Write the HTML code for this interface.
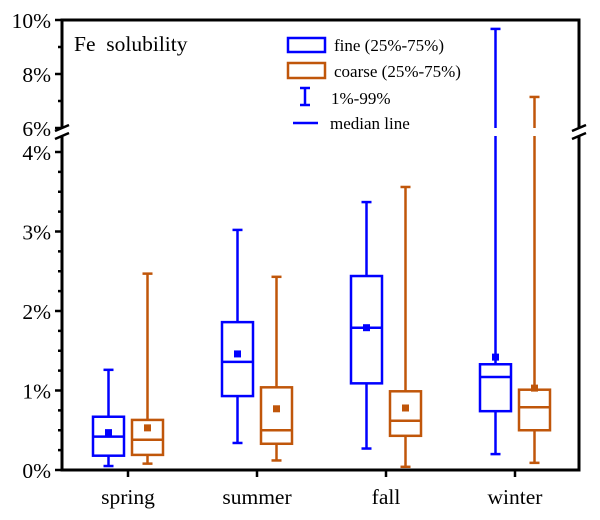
<!DOCTYPE html>
<html><head><meta charset="utf-8"><style>
html,body{margin:0;padding:0;background:#fff;}
svg{display:block;font-family:"Liberation Serif",serif;}
</style></head><body>
<svg id="chart" width="600" height="520" viewBox="0 0 600 520">
<g id="axes"></g>
<g id="marks"></g>
<g id="legend">
  <text x="74" y="51" font-size="21.5" xml:space="preserve">Fe  solubility</text>
  <rect x="288" y="38" width="37" height="14" fill="none" stroke="#0000ff" stroke-width="2.5"/>
  <text x="334" y="51" font-size="17">fine (25%-75%)</text>
  <rect x="288" y="63" width="37" height="15" fill="none" stroke="#c0560a" stroke-width="2.5"/>
  <text x="334" y="77" font-size="17">coarse (25%-75%)</text>
  <g stroke="#0000ff" stroke-width="2.5">
    <line x1="305" y1="88" x2="305" y2="105"/><line x1="300" y1="88" x2="310" y2="88"/><line x1="300" y1="105" x2="310" y2="105"/>
  </g>
  <text x="331" y="104" font-size="17">1%-99%</text>
  <line x1="293" y1="123" x2="318" y2="123" stroke="#0000ff" stroke-width="2.5"/>
  <text x="330" y="129" font-size="17">median line</text>
</g>
</svg>
<script>
const categories = ["spring","summer","fall","winter"];
const fineLow    = [0.05, 0.34, 0.27, 0.20];
const fineQ1     = [0.18, 0.93, 1.09, 0.74];
const fineMedian = [0.42, 1.36, 1.79, 1.17];
const fineMean   = [0.47, 1.46, 1.79, 1.42];
const fineQ3     = [0.67, 1.86, 2.44, 1.33];
const fineHigh   = [1.26, 3.02, 3.37, 9.67];
const coarseLow    = [0.08, 0.12, 0.04, 0.09];
const coarseQ1     = [0.19, 0.33, 0.43, 0.50];
const coarseMedian = [0.38, 0.50, 0.62, 0.79];
const coarseMean   = [0.53, 0.77, 0.78, 1.03];
const coarseQ3     = [0.63, 1.04, 0.99, 1.01];
const coarseHigh   = [2.47, 2.43, 3.56, 7.15];
const lowerTicks = [0,1,2,3,4];
const upperTicks = [6,8,10];

const NS="http://www.w3.org/2000/svg";
const L=62,R=579,T=20,B=470;
const LOW_MAX=4.21, LOW_TOP=136, UP_MIN=6, UP_BOT=128;
function y(v){ if(v<=LOW_MAX) return B-v*79.5; return UP_BOT-(v-UP_MIN)*27; }
function x(i){ return 128+i*129; }
function el(tag,attrs,parent){const e=document.createElementNS(NS,tag);for(const k in attrs)e.setAttribute(k,attrs[k]);parent.appendChild(e);return e;}
const axes=document.getElementById('axes'), marks=document.getElementById('marks');

let f;
f=el('path',{d:`M${L},${LOW_TOP} L${L},${B} L${R},${B} L${R},${LOW_TOP} M${L},${UP_BOT} L${L},${T} L${R},${T} L${R},${UP_BOT}`,fill:'none',stroke:'#000','stroke-width':3},axes);


[L,R].forEach((bx,j)=>{
  const b=el('path',{d:`M${bx-7},${UP_BOT+3} L${bx+7},${UP_BOT-3} M${bx-7},${LOW_TOP+3} L${bx+7},${LOW_TOP-3}`,stroke:'#000','stroke-width':2.5,fill:'none'},axes);
  
  
});
for(let v=0;v<=4.001;v+=0.25){
  const major=Math.abs(v-Math.round(v))<1e-6;
  const t=el('line',{x1:major?55:58,x2:L,y1:y(v),y2:y(v),stroke:'#000','stroke-width':2.5},axes);
  
  
}
for(let v=6;v<=10;v+=1){
  const major=v%2===0;
  const t=el('line',{x1:major?55:58,x2:L,y1:y(v),y2:y(v),stroke:'#000','stroke-width':2.5},axes);
  
  
}
lowerTicks.concat(upperTicks).forEach(v=>{
  const t=el('text',{x:51,y:y(v)+8,'text-anchor':'end','font-size':21.5},axes);
  t.textContent=v+'%';
  
  
});
categories.forEach((c,i)=>{
  const t=el('line',{x1:x(i),x2:x(i),y1:B,y2:B+7,stroke:'#000','stroke-width':2.5},axes);
  
  
  const l=el('text',{x:x(i),y:504,'text-anchor':'middle','font-size':21.5},axes);
  l.textContent=c;
  
  
});
function seg(g,v1,v2,cx,col){
  const a=Math.min(v1,v2),b=Math.max(v1,v2);
  if(b<=LOW_MAX||a>=UP_MIN){el('line',{x1:cx,x2:cx,y1:y(a),y2:y(b),stroke:col,'stroke-width':2.5},g);return;}
  el('line',{x1:cx,x2:cx,y1:y(a),y2:LOW_TOP,stroke:col,'stroke-width':2.5},g);
  if(b>UP_MIN) el('line',{x1:cx,x2:cx,y1:UP_BOT,y2:y(b),stroke:col,'stroke-width':2.5},g);
}
function box(i,off,col,lo,q1,md,mn,q3,hi,name){
  const cx=x(i)+off,w=31;
  const g=el('g',{},marks);
  
  
  seg(g,q3,hi,cx,col); seg(g,lo,q1,cx,col);
  el('line',{x1:cx-5,x2:cx+5,y1:y(hi),y2:y(hi),stroke:col,'stroke-width':2.5},g);
  el('line',{x1:cx-5,x2:cx+5,y1:y(lo),y2:y(lo),stroke:col,'stroke-width':2.5},g);
  el('rect',{x:cx-w/2,y:y(q3),width:w,height:y(q1)-y(q3),fill:'#fff',stroke:col,'stroke-width':2.5},g);
  el('line',{x1:cx-w/2,x2:cx+w/2,y1:y(md),y2:y(md),stroke:col,'stroke-width':2.5},g);
  el('rect',{x:cx-3.5,y:y(mn)-3.5,width:7,height:7,fill:col},g);
}
categories.forEach((c,i)=>{
  box(i,-19.5,'#0000ff',fineLow[i],fineQ1[i],fineMedian[i],fineMean[i],fineQ3[i],fineHigh[i],'fine');
  box(i,19.5,'#c0560a',coarseLow[i],coarseQ1[i],coarseMedian[i],coarseMean[i],coarseQ3[i],coarseHigh[i],'coarse');
});
</script>
</body></html>
